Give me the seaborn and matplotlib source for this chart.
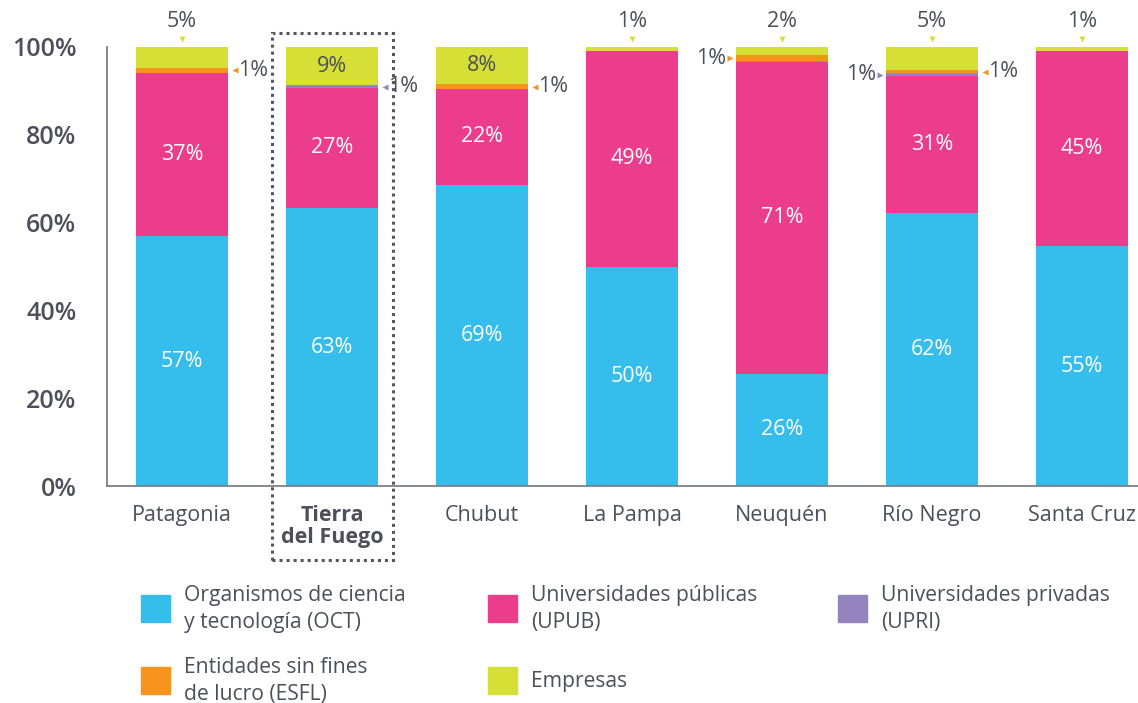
import numpy as np
import pandas as pd
import matplotlib
matplotlib.use("Agg")
import matplotlib.pyplot as plt
from matplotlib.patches import Rectangle
import seaborn as sns

# === Datos (porcentaje del total por sector de ejecución) ===
regiones = ["Patagonia", "Tierra\ndel Fuego", "Chubut", "La Pampa", "Neuquén", "Río Negro", "Santa Cruz"]
oct_ = [56.9, 63.3, 68.6, 49.9, 25.6, 62.2, 54.6]
upub = [37.2, 27.4, 21.8, 49.2, 70.9, 31.2, 44.6]
upri = [0.0, 0.6, 0.0, 0.0, 0.3, 0.6, 0.0]
esfl = [1.1, 0.0, 1.1, 0.0, 1.3, 0.7, 0.0]
empresas = [4.8, 8.7, 8.4, 0.9, 1.9, 5.3, 0.8]

series = ["OCT", "UPUB", "UPRI", "ESFL", "Empresas"]
nombres_leyenda = [
    "Organismos de ciencia\ny tecnología (OCT)",
    "Universidades públicas\n(UPUB)",
    "Universidades privadas\n(UPRI)",
    "Entidades sin fines\nde lucro (ESFL)",
    "Empresas",
]
colores = ["#35bdec", "#ec3d8c", "#9384bf", "#f7941e", "#d6df36"]
gris = "#4d505a"

# etiquetas pequeñas al costado: (región, serie, lado)
etiquetas_laterales = [
    (0, "ESFL", "right"), (1, "UPRI", "right"), (2, "ESFL", "right"),
    (4, "ESFL", "left"), (5, "UPRI", "left"), (5, "ESFL", "right"),
]

df = pd.DataFrame({"region": regiones, "OCT": oct_, "UPUB": upub, "UPRI": upri,
                   "ESFL": esfl, "Empresas": empresas})
acum = df[series].cumsum(axis=1)
base = acum - df[series]

sns.set_style("white")
plt.rcParams["font.family"] = ["Open Sans", "DejaVu Sans"]

W, H = 1138, 703
fig = plt.figure(figsize=(W / 100, H / 100), dpi=100)
ax = fig.add_axes([107 / W, (H - 486) / H, 1050 / W, 439 / H])

# barras apiladas: se dibuja del acumulado mayor al menor
ancho = 0.61
for s, c in reversed(list(zip(series, colores))):
    sns.barplot(x=df["region"], y=acum[s], color=c, width=ancho, saturation=1,
                errorbar=None, linewidth=0, ax=ax)

ax.set_ylim(0, 100)
ax.set_xlim(-0.5, len(regiones) - 0.5)
ax.set_xlabel("")
ax.set_ylabel("")

# ejes
for lado in ["top", "right"]:
    ax.spines[lado].set_visible(False)
for lado in ["left", "bottom"]:
    ax.spines[lado].set_color("#7d8087")
    ax.spines[lado].set_linewidth(1.3)

ax.set_yticks(np.arange(0, 101, 20))
ax.set_yticklabels([f"{v}%" for v in range(0, 101, 20)], fontsize=18,
                   fontweight="semibold", color=gris)
ax.tick_params(axis="y", length=5, width=1.2, color="#7d8087", pad=17)

ax.set_xticks(range(len(regiones)))
ax.set_xticklabels(regiones, fontsize=15.5, color=gris, linespacing=1.05)
ax.get_xticklabels()[1].set_fontweight("bold")
ax.set_xticks(np.arange(-0.5, len(regiones), 1), minor=True)
ax.tick_params(axis="x", which="major", length=0, pad=14)
ax.tick_params(axis="x", which="minor", length=8, width=1.2, color="#7d8087")

# etiquetas dentro de las barras
tam = 15.5
for i in range(len(regiones)):
    for s in ["OCT", "UPUB"]:
        ax.text(i, base.loc[i, s] + df.loc[i, s] / 2, f"{df.loc[i, s]:.0f}%",
                ha="center", va="center", color="white", fontsize=tam)
    emp = df.loc[i, "Empresas"]
    if emp >= 7:
        ax.text(i, base.loc[i, "Empresas"] + emp / 2, f"{emp:.0f}%",
                ha="center", va="center", color=gris, fontsize=tam)
    else:
        ax.text(i, 105.7, f"{emp:.0f}%", ha="center", va="center", color=gris, fontsize=tam)
        ax.plot(i, 101.9, marker="v", ms=5, color=colores[4], mec="none", clip_on=False)

# etiquetas laterales con flecha
for i, s, lado in etiquetas_laterales:
    y = base.loc[i, s] + df.loc[i, s] / 2
    c = colores[series.index(s)]
    if lado == "right":
        ax.plot(i + ancho / 2 + 0.045, y, marker="<", ms=5, color=c, mec="none", clip_on=False)
        ax.text(i + ancho / 2 + 0.07, y, f"{df.loc[i, s]:.0f}%", ha="left", va="center",
                color=gris, fontsize=tam)
    else:
        ax.plot(i - ancho / 2 - 0.045, y, marker=">", ms=5, color=c, mec="none", clip_on=False)
        ax.text(i - ancho / 2 - 0.07, y, f"{df.loc[i, s]:.0f}%", ha="right", va="center",
                color=gris, fontsize=tam)

# recuadro punteado de Tierra del Fuego
ax.add_patch(Rectangle((0.6, -16.9), 0.807, 120.1, fill=False, ls=(0, (1, 1.3)),
                       lw=2.2, ec="#55575f", clip_on=False))

# leyenda manual en 3 columnas
for k, (nombre, c) in enumerate(zip(nombres_leyenda, colores)):
    col, fila = k % 3, k // 3
    x0 = [141, 488, 838][col]
    y0 = 595 + fila * 72
    fig.add_artist(Rectangle((x0 / W, 1 - (y0 + 27) / H), 29 / W, 27 / H,
                             color=c, transform=fig.transFigure))
    fig.text((x0 + 43) / W, 1 - (y0 + 14) / H, nombre, ha="left", va="center",
             fontsize=15.2, color=gris, linespacing=1.32)

fig.savefig("out.png", dpi=100)
